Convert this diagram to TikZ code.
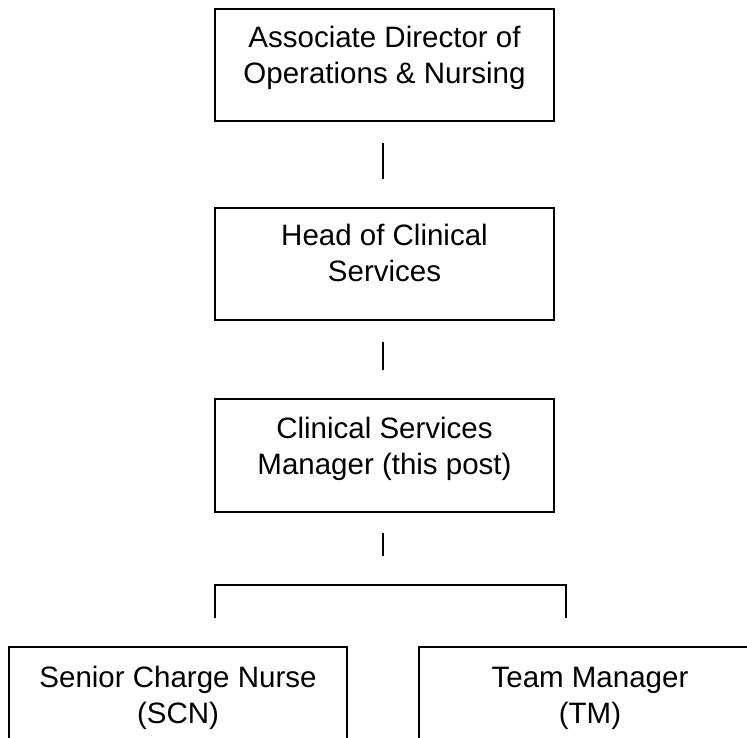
\documentclass[tikz,border=0pt]{standalone}
\usepackage{fontspec}
\setmainfont{Liberation Sans}
\begin{document}
\begin{tikzpicture}[x=1pt,y=-1pt,
  orgbox/.style={draw=black, line width=1.3pt, rectangle, inner sep=0pt},
  lbl/.style={align=center, inner sep=0pt, anchor=north, font=\fontsize{29.5}{36}\selectfont},
  link/.style={draw=black, line width=1.3pt}]
\clip (0,0) rectangle (747,738);
\fill[white] (0,0) rectangle (747,738);
% boxes
\node[orgbox, minimum width=339pt, minimum height=112pt] (b1) at (384.5,65) {};
\node[orgbox, minimum width=339pt, minimum height=112pt] (b2) at (384.5,264) {};
\node[orgbox, minimum width=339pt, minimum height=113pt] (b3) at (384.5,455.5) {};
\node[orgbox, minimum width=338pt, minimum height=112pt] (b4) at (178,703) {};
\node[orgbox, minimum width=342pt, minimum height=112pt] (b5) at (590,703) {};
% labels (north = first baseline - 25.2)
\node[lbl] (t1) at (384.5,21.8) {\strut Associate Director of\\Operations \& Nursing};
\node[lbl] (t2) at (384.5,219.8) {\strut Head of Clinical\\Services};
\node[lbl] (t3) at (384.5,412.8) {\strut Clinical Services\\Manager (this post)};
\node[lbl] (t4) at (178,661.8) {\strut Senior Charge Nurse\\(SCN)};
\node[lbl] (t5) at (590,661.8) {\strut Team Manager\\(TM)};
% free-standing connector segments
\coordinate (l1a) at (383,143); \coordinate (l1b) at (383,179);
\coordinate (l2a) at (383,342); \coordinate (l2b) at (383,370);
\coordinate (l3a) at (383,533); \coordinate (l3b) at (383,556);
\coordinate (bl) at (215,618); \coordinate (blt) at (215,585);
\coordinate (brt) at (566,585); \coordinate (br) at (566,618);
\draw[link] (l1a) -- (l1b);
\draw[link] (l2a) -- (l2b);
\draw[link] (l3a) -- (l3b);
\draw[link] (bl) -- (blt) -- (brt) -- (br);
\end{tikzpicture}
\end{document}
